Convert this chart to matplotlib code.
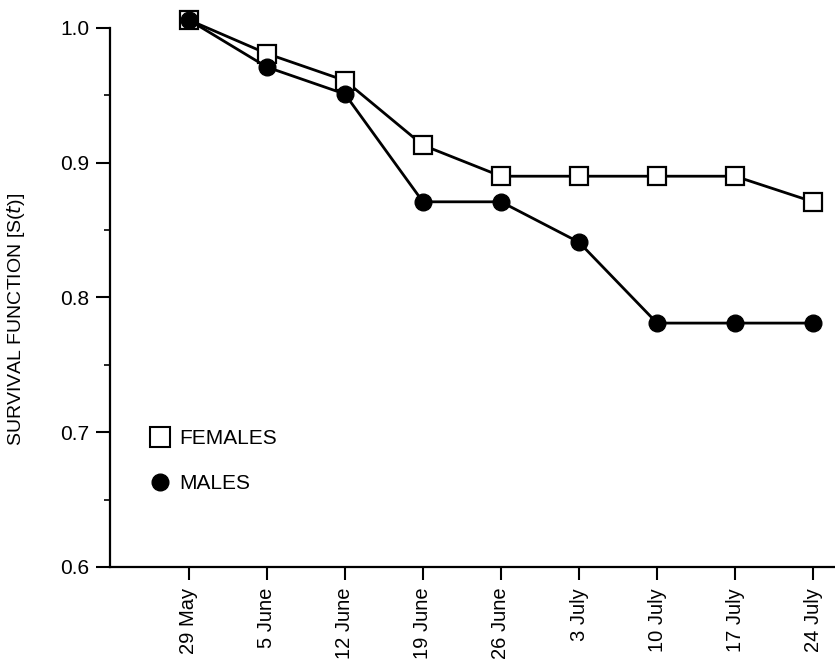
import matplotlib
matplotlib.use("Agg")
import matplotlib.pyplot as plt
from matplotlib.lines import Line2D
import numpy as np

plt.rcParams['font.family'] = ['Liberation Sans', 'DejaVu Sans']

dates = ["29 May", "5 June", "12 June", "19 June", "26 June", "3 July",
         "10 July", "17 July", "24 July"]
females = [1.006, 0.981, 0.961, 0.913, 0.890, 0.890, 0.890, 0.890, 0.871]
males = [1.006, 0.971, 0.951, 0.871, 0.871, 0.841, 0.781, 0.781, 0.781]

fig = plt.figure(figsize=(8.35, 6.63), dpi=100)
ax = fig.add_axes([0.1317, 0.1448, 0.8683, 0.8130])

x = np.arange(len(dates))
ax.plot(x, females, color='black', lw=2.0, marker='s', ms=13.5, mfc='white',
        mec='black', mew=1.6, clip_on=False, zorder=3)
ax.plot(x, males, color='black', lw=2.0, marker='o', ms=12, mfc='black',
        mec='black', clip_on=False, zorder=4)

ax.set_xlim(-1.01, 8.28)
ax.set_ylim(0.6, 1.0)
ax.spines['top'].set_visible(False)
ax.spines['right'].set_visible(False)
ax.spines['left'].set_linewidth(1.6)
ax.spines['bottom'].set_linewidth(1.6)

ax.set_yticks([0.6, 0.7, 0.8, 0.9, 1.0])
ax.set_yticklabels(["0.6", "0.7", "0.8", "0.9", "1.0"])
ax.set_yticks([0.65, 0.75, 0.85, 0.95], minor=True)
ax.tick_params(axis='y', which='major', length=10, width=1.5, labelsize=15, pad=5)
ax.tick_params(axis='y', which='minor', length=4, width=1.2)
ax.set_xticks(x)
ax.set_xticklabels(dates, rotation=90)
ax.tick_params(axis='x', which='major', length=9, width=1.5, labelsize=14.5, pad=6)

ax.set_ylabel(r"SURVIVAL FUNCTION [S($\it{t}$)]", fontsize=14)
ax.yaxis.set_label_coords(-0.114, 0.46)

handles = [
    Line2D([], [], ls='none', marker='s', ms=15, mfc='white', mec='black', mew=1.5),
    Line2D([], [], ls='none', marker='o', ms=12, mfc='black', mec='black'),
]
ax.legend(handles, ["FEMALES", "MALES"], loc='upper left',
          bbox_to_anchor=(0.168, 0.368), bbox_transform=fig.transFigure,
          frameon=False, fontsize=15, handlelength=0.9, handletextpad=0.45,
          labelspacing=1.25, borderpad=0)

fig.savefig("out.png", dpi=100)
